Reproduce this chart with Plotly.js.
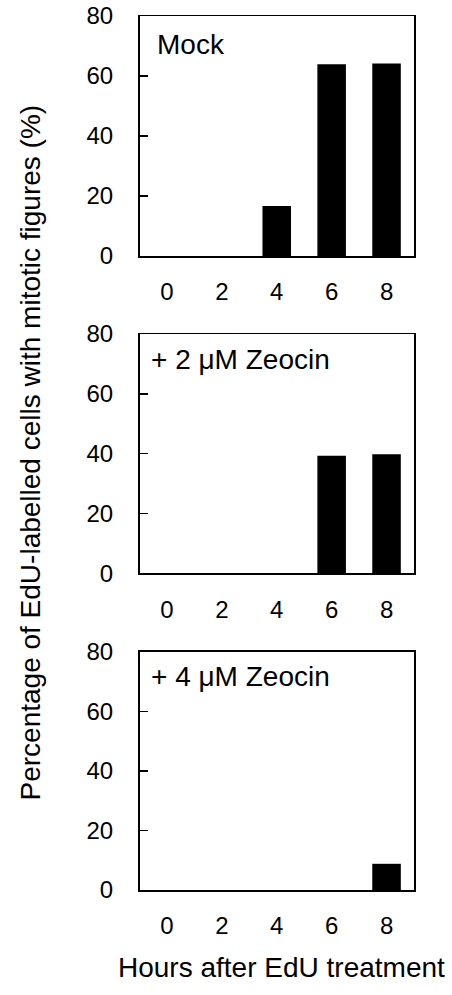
<!DOCTYPE html>
<html>
<head>
<meta charset="utf-8">
<script src="https://cdn.plot.ly/plotly-3.0.1.min.js"></script>
<style>html,body{margin:0;padding:0;background:#fff;}#chart{width:452px;height:995px;}</style>
</head>
<body>
<div id="chart"></div>
<script>
const hours = [0, 2, 4, 6, 8];
const mock = [0, 0, 16.7, 63.9, 64.2];
const zeocin2 = [0, 0, 0, 39.3, 39.8];
const zeocin4 = [0, 0, 0, 0, 8.8];
const panelLabels = ["Mock", "+ 2 \u03BCM Zeocin", "+ 4 \u03BCM Zeocin"];
const yTicks = [0, 20, 40, 60, 80];
const xTitle = "Hours after EdU treatment";
const yTitle = "Percentage of EdU-labelled cells with mitotic figures (%)";

const W = 452, H = 995;
const FONT = "Liberation Sans, Arial, Helvetica, sans-serif";
const series = [mock, zeocin2, zeocin4];
// pixel boxes of the three panels (top, bottom)
const boxes = [[16, 256], [334, 573.3], [651.7, 890]];
const xDom = [139.5 / W, 414 / W];

const traces = series.map((vals, i) => ({
  type: 'bar',
  x: hours,
  y: vals,
  width: 1.04,
  marker: {color: '#000', line: {width: 0}},
  xaxis: i === 0 ? 'x' : 'x' + (i + 1),
  yaxis: i === 0 ? 'y' : 'y' + (i + 1),
  hoverinfo: 'skip',
  showlegend: false
}));

const layout = {
  width: W, height: H,
  margin: {l: 0, r: 0, t: 0, b: 0},
  paper_bgcolor: '#fff',
  plot_bgcolor: '#fff',
  font: {family: FONT, color: '#000', size: 24},
  showlegend: false,
  annotations: []
};

boxes.forEach((b, i) => {
  const sfx = i === 0 ? '' : String(i + 1);
  const yd = [1 - b[1] / H, 1 - b[0] / H];
  layout['xaxis' + sfx] = {
    domain: xDom,
    anchor: 'y' + sfx,
    range: [-1, 9],
    tickvals: hours,
    ticktext: hours.map(String),
    ticks: '',
    showline: true, mirror: true, linecolor: '#000', linewidth: 1.5,
    showgrid: false, zeroline: false,
    ticklabelstandoff: 14,
    tickfont: {size: 24, family: FONT, color: '#000'},
    fixedrange: true
  };
  layout['yaxis' + sfx] = {
    domain: yd,
    anchor: 'x' + sfx,
    range: [0, 80],
    tickvals: yTicks,
    ticks: 'inside', ticklen: 8, tickwidth: 1.5, tickcolor: '#000',
    showline: true, mirror: true, linecolor: '#000', linewidth: 1.5,
    showgrid: false, zeroline: false,
    ticklabelstandoff: 20,
    tickfont: {size: 24, family: FONT, color: '#000'},
    fixedrange: true
  };
  layout.annotations.push({
    text: panelLabels[i],
    xref: 'paper', yref: 'paper',
    x: (i === 0 ? 155 : 149) / W,
    y: 1 - (b[0] + (i === 0 ? 28 : 25)) / H,
    xanchor: 'left', yanchor: 'middle',
    showarrow: false,
    font: {size: 28, family: FONT, color: '#000'}
  });
});

layout.annotations.push({
  text: xTitle,
  xref: 'paper', yref: 'paper',
  x: 281.5 / W, y: 1 - 967 / H,
  xanchor: 'center', yanchor: 'middle',
  showarrow: false,
  font: {size: 28, family: FONT, color: '#000'}
});
layout.annotations.push({
  text: yTitle,
  xref: 'paper', yref: 'paper',
  x: 30 / W, y: 1 - 452.5 / H,
  xanchor: 'center', yanchor: 'middle',
  textangle: -90,
  showarrow: false,
  font: {size: 28, family: FONT, color: '#000'}
});

Plotly.newPlot('chart', traces, layout, {displayModeBar: false, staticPlot: true});
</script>
</body>
</html>
